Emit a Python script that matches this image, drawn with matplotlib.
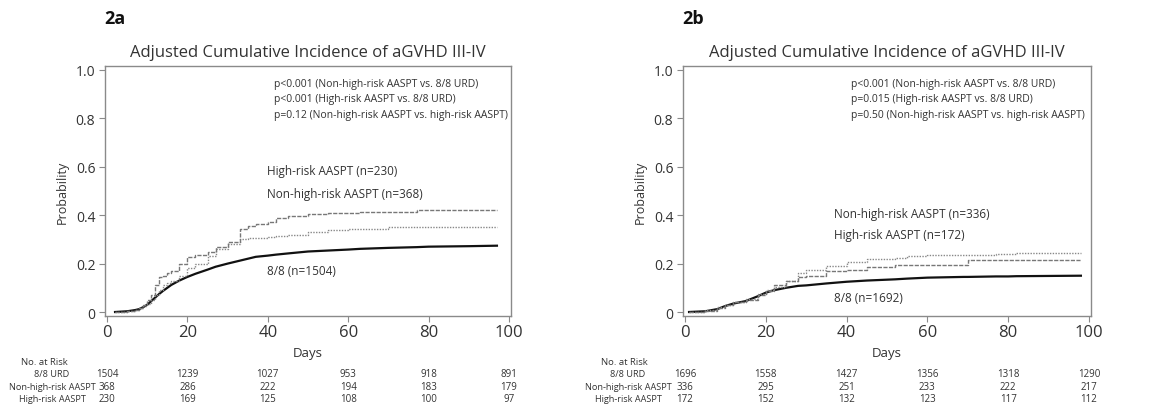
import matplotlib.pyplot as plt
from matplotlib.transforms import blended_transform_factory

plt.rcParams['font.family'] = ['Open Sans', 'DejaVu Sans']

# --- panel 2a ---
a_days = [2, 5, 7, 8, 9, 10, 11, 12, 13, 14, 15, 16, 18, 20, 22, 25, 27, 30, 33, 35, 37, 40, 42, 45, 50, 55, 60, 63, 70, 77, 80, 90, 97]
a_urd = [0, 0.003, 0.008, 0.012, 0.02, 0.03, 0.045, 0.06, 0.075, 0.088, 0.10, 0.112, 0.13, 0.145, 0.158, 0.175, 0.187, 0.20, 0.212, 0.22, 0.228, 0.233, 0.237, 0.242, 0.25, 0.254, 0.258, 0.261, 0.265, 0.268, 0.27, 0.272, 0.274]
a_high = [0, 0.003, 0.01, 0.015, 0.03, 0.05, 0.07, 0.11, 0.145, 0.15, 0.16, 0.17, 0.20, 0.226, 0.235, 0.25, 0.27, 0.29, 0.345, 0.355, 0.365, 0.373, 0.39, 0.395, 0.405, 0.41, 0.41, 0.415, 0.415, 0.42, 0.42, 0.42, 0.42]
a_nonhigh = [0, 0.003, 0.01, 0.015, 0.025, 0.035, 0.05, 0.07, 0.09, 0.11, 0.12, 0.13, 0.15, 0.18, 0.20, 0.23, 0.26, 0.28, 0.30, 0.305, 0.305, 0.31, 0.315, 0.32, 0.33, 0.34, 0.345, 0.345, 0.35, 0.35, 0.35, 0.35, 0.35]

# --- panel 2b ---
b_days = [1, 5, 8, 10, 12, 15, 18, 20, 22, 25, 28, 30, 35, 40, 45, 52, 55, 60, 69, 70, 77, 80, 82, 90, 98]
b_urd = [0, 0.003, 0.012, 0.025, 0.035, 0.045, 0.065, 0.08, 0.09, 0.10, 0.108, 0.11, 0.118, 0.125, 0.13, 0.135, 0.138, 0.142, 0.145, 0.145, 0.147, 0.147, 0.148, 0.149, 0.15]
b_nonhigh = [0, 0.008, 0.02, 0.03, 0.04, 0.055, 0.075, 0.09, 0.105, 0.13, 0.16, 0.175, 0.19, 0.205, 0.22, 0.225, 0.23, 0.235, 0.235, 0.235, 0.24, 0.24, 0.245, 0.245, 0.245]
b_high = [0, 0.005, 0.015, 0.03, 0.04, 0.05, 0.07, 0.085, 0.11, 0.13, 0.145, 0.15, 0.17, 0.175, 0.185, 0.195, 0.195, 0.195, 0.195, 0.215, 0.215, 0.215, 0.215, 0.215, 0.215]

risk_ticks = [0, 20, 40, 60, 80, 100]
risk_labels = ['8/8 URD', 'Non-high-risk AASPT', 'High-risk AASPT']
a_risk = [[1504, 1239, 1027, 953, 918, 891],
          [368, 286, 222, 194, 183, 179],
          [230, 169, 125, 108, 100, 97]]
b_risk = [[1696, 1558, 1427, 1356, 1318, 1290],
          [336, 295, 251, 233, 222, 217],
          [172, 152, 132, 123, 117, 112]]

a_pvals = ['p<0.001 (Non-high-risk AASPT vs. 8/8 URD)',
           'p<0.001 (High-risk AASPT vs. 8/8 URD)',
           'p=0.12 (Non-high-risk AASPT vs. high-risk AASPT)']
b_pvals = ['p<0.001 (Non-high-risk AASPT vs. 8/8 URD)',
           'p=0.015 (High-risk AASPT vs. 8/8 URD)',
           'p=0.50 (Non-high-risk AASPT vs. high-risk AASPT)']

txt = '#333333'
frame = '#8a8a8a'

fig = plt.figure(figsize=(11.68, 4.14), dpi=100)


def panel(rect, tag, days, urd, nonhigh, high, risk, pvals, labels, p_x, tab_x, nar_x):
    ax = fig.add_axes(rect)
    # 8/8 has many events, so it reads as a smooth line
    ax.plot(days, urd, color='#111111', lw=1.6)
    ax.step(days, nonhigh, where='post', color='#888888', lw=1.0, linestyle=(0, (1, 1)))
    ax.step(days, high, where='post', color='#777777', lw=1.0, linestyle=(0, (3, 1)))
    ax.set_xlim(-0.5, 100.5)
    ax.set_ylim(-0.0165, 1.0165)
    ax.set_xticks(risk_ticks)
    ax.set_yticks([0, 0.2, 0.4, 0.6, 0.8, 1.0])
    ax.set_yticklabels(['0', '0.2', '0.4', '0.6', '0.8', '1.0'])
    for s in ax.spines.values():
        s.set_color(frame)
        s.set_linewidth(1.0)
    ax.tick_params(axis='x', colors=frame, labelcolor=txt, labelsize=12, length=4, pad=2)
    ax.tick_params(axis='y', colors=frame, labelcolor=txt, labelsize=10, length=4, pad=3)
    ax.set_title('Adjusted Cumulative Incidence of aGVHD III-IV', fontsize=12, color=txt, pad=7)
    ax.set_xlabel('Days', fontsize=9.5, color=txt, labelpad=4)
    ax.set_ylabel('Probability', fontsize=9, color=txt, labelpad=5)
    for i, p in enumerate(pvals):
        ax.text(p_x, 0.946 - i * 0.064, p, fontsize=7.5, color=txt, va='center')
    for (x, y, s) in labels:
        ax.text(x, y, s, fontsize=8.5, color=txt, va='center')
    fig.text(rect[0] - 0.001, 1 - 19 / 414, tag, fontsize=13, fontweight='bold', color='#111111', va='center')
    tr = blended_transform_factory(ax.transData, fig.transFigure)
    fig.text(nar_x, 1 - 363 / 414, 'No. at Risk', fontsize=6.8, color=txt, ha='center', va='center')
    for r, row in enumerate(risk):
        yy = 1 - (375 + r * 12.5) / 414
        fig.text(tab_x, yy, risk_labels[r], fontsize=6.6, color=txt, ha='center', va='center')
        for x, n in zip(risk_ticks, row):
            ax.text(x, yy, str(n), fontsize=7, color=txt, ha='center', va='center', transform=tr)
    return ax


panel([105 / 1168, 1 - 317 / 414, 406 / 1168, 250 / 414], '2a',
      a_days, a_urd, a_nonhigh, a_high, a_risk, a_pvals,
      [(39.8, 0.583, 'High-risk AASPT (n=230)'),
       (39.8, 0.488, 'Non-high-risk AASPT (n=368)'),
       (39.8, 0.17, '8/8 (n=1504)')],
      41.5, 52 / 1168, 44 / 1168)

panel([683 / 1168, 1 - 317 / 414, 408 / 1168, 250 / 414], '2b',
      b_days, b_urd, b_nonhigh, b_high, b_risk, b_pvals,
      [(36.9, 0.405, 'Non-high-risk AASPT (n=336)'),
       (36.9, 0.322, 'High-risk AASPT (n=172)'),
       (36.9, 0.062, '8/8 (n=1692)')],
      41.1, 628 / 1168, 624 / 1168)

fig.savefig('out.png', dpi=100, facecolor='white')
